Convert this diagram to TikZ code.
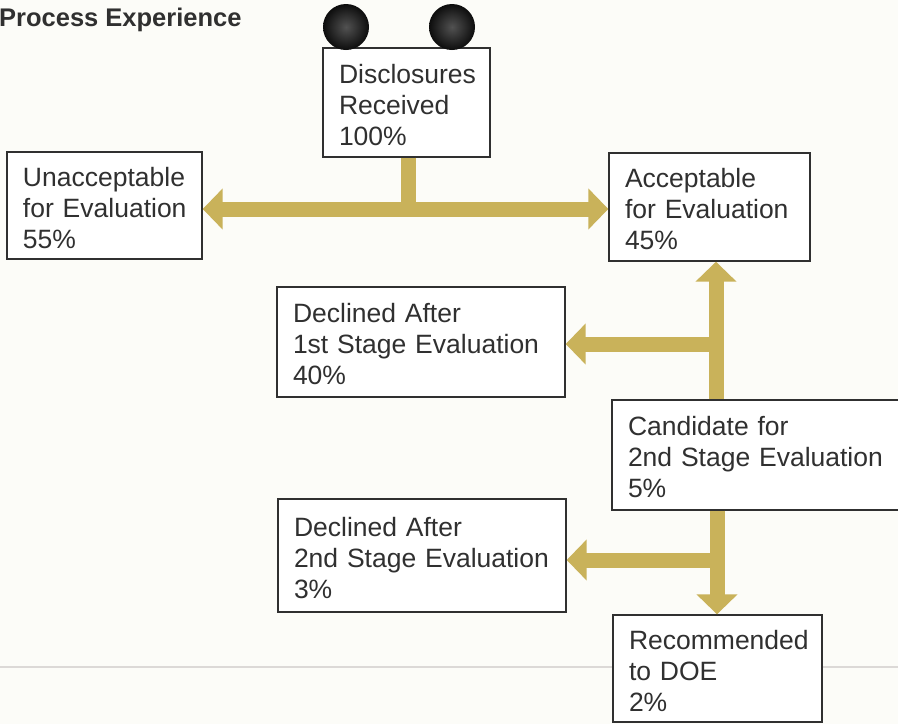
\documentclass[tikz,border=0pt]{standalone}
\usepackage{fontspec}
\setmainfont{Liberation Sans}
\usetikzlibrary{arrows.meta}
\definecolor{flowgold}{RGB}{201,178,90}
\definecolor{ink}{RGB}{48,48,48}
\definecolor{paper}{RGB}{252,252,248}
\definecolor{foldgray}{RGB}{220,217,215}
\tikzset{
  bigtip/.tip={Triangle[width=40pt,length=20pt]},
  box/.style={draw=ink, line width=1.4pt, fill=white, rectangle, align=left,
    inner xsep=0pt, inner ysep=0pt, text=ink,
    font=\fontsize{26.5}{31}\selectfont,
    execute at begin node={\leftskip=16pt\hyphenpenalty=10000\exhyphenpenalty=10000\rule{0pt}{23.5pt}}},
  flowline/.style={draw=flowgold, line width=15pt},
  stud/.style={circle, minimum size=46pt, inner sep=0pt, shade, inner color=black!68, outer color=black!95},
}
\begin{document}
\begin{tikzpicture}[x=1pt,y=-1pt]
\useasboundingbox (0,0) rectangle (898,724);
\fill[paper] (0,0) rectangle (898,724);
\clip (0,0) rectangle (898,724);

% faint fold line
\draw[foldgray, line width=1.2pt] (0,667) -- (898,667);

% title
\node[anchor=base west, inner sep=0pt, text=ink,
      font=\fontsize{25.5}{30}\selectfont\bfseries] (title) at (-1,26) {Process Experience};

% boxes
\node[box, text width=167pt, minimum height=109pt] (disc) at (406.5,102.5) {Disclosures\\Received\\100\%};
\node[box, text width=195pt, minimum height=107pt] (unacc) at (104.5,205.5) {Unacceptable\\for Evaluation\\55\%};
\node[box, text width=201pt, minimum height=108pt] (acc) at (709.5,207) {Acceptable\\for Evaluation\\45\%};
\node[box, text width=288pt, minimum height=110pt] (dec1) at (421,342) {Declined After\\1st Stage Evaluation\\40\%};
\node[box, text width=298pt, minimum height=110pt] (cand) at (761,455) {Candidate for\\2nd Stage Evaluation\\5\%};
\node[box, text width=288pt, minimum height=113pt] (dec2) at (422,555.5) {Declined After\\2nd Stage Evaluation\\3\%};
\node[box, text width=209pt, minimum height=107pt] (rec) at (717.5,668.5) {Recommended\\to DOE\\2\%};

% connectors
\coordinate (j1) at (408,209);
\coordinate (j2) at (716,344);
\coordinate (j3) at (717,560);

\draw[flowline] (disc.south -| j1) -- ([yshift=-7pt]j1);
\draw[flowline, bigtip-bigtip] (j1 -| unacc.east) -- (j1 -| acc.west);

\draw[flowline, -bigtip] (j2 |- cand.north) -- (j2 |- acc.south);
\draw[flowline, -bigtip] ([xshift=7pt]j2) -- (j2 -| dec1.east);

\draw[flowline, -bigtip] (j3 |- cand.south) -- (j3 |- rec.north);
\draw[flowline, -bigtip] ([xshift=7pt]j3) -- (j3 -| dec2.east);

% studs at top of the first box
\node[stud] (studL) at (346,27) {};
\node[stud] (studR) at (452,27) {};
\end{tikzpicture}
\end{document}
